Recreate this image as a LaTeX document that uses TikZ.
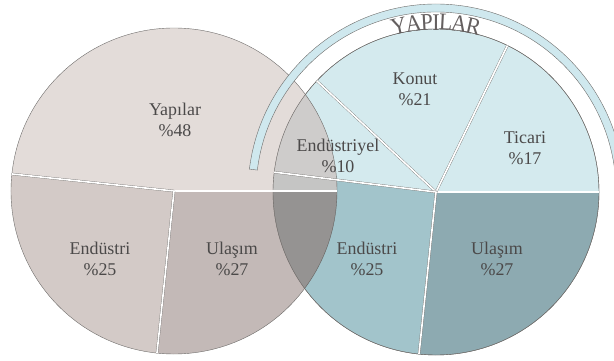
\documentclass[tikz,border=0pt]{standalone}
\usepackage{fontspec}
\setmainfont{Liberation Serif}
\usetikzlibrary{calc}
\definecolor{yapC}{RGB}{220,211,208}
\definecolor{endC}{RGB}{200,189,185}
\definecolor{ulaC}{RGB}{180,168,165}
\definecolor{ustB}{RGB}{212,234,238}
\definecolor{endB}{RGB}{162,196,203}
\definecolor{ulaB}{RGB}{141,170,177}
\definecolor{bandB}{RGB}{207,232,238}
\definecolor{edgeC}{RGB}{110,108,106}
\definecolor{textC}{RGB}{75,73,73}
\definecolor{titleC}{RGB}{100,95,95}
\begin{document}
\begin{tikzpicture}[x=1bp,y=1bp,
    slice/.style ={draw=edgeC, line width=0.4pt},
    gap/.style ={draw=edgeC, line width=0.3pt, double=white, double distance=1.7pt},
    share/.style ={text=textC, align=center, inner sep=0pt, font=\fontsize{18}{21}\selectfont},
    band/.style ={fill=bandB, draw=edgeC, line width=0.4pt},
    letter/.style ={text=titleC, inner sep=0pt, anchor=base, font=\fontsize{24}{24}\selectfont}]
  \useasboundingbox (0,0) rectangle (614,360);
  \clip (0,0) rectangle (614,360);
  \coordinate (L) at (174,169);
  \coordinate (R) at (436,168);
  \foreach \a/\b/\c in {0/64/ustB, 64/137/ustB, 137/173/ustB, 173/264/endB, 264/360/ulaB}
    \filldraw[slice, fill=\c] (R) -- ++(\a:163) arc[start angle=\a, end angle=\b, radius=163] -- cycle;
  \foreach \a/\b/\c in {0/174/yapC, 174/264/endC, 264/360/ulaC}
    \filldraw[slice, fill=\c, fill opacity=.8] (L) -- ++(\a:163) arc[start angle=\a, end angle=\b, radius=163] -- cycle;
  \begin{scope}
    \clip (R) circle (163);
    \fill[black, opacity=.05] (L) -- ++(0:163) arc[start angle=0, end angle=174, radius=163] -- cycle;
    \fill[black, opacity=.15] (L) -- ++(264:163) arc[start angle=264, end angle=360, radius=163] -- cycle;
  \end{scope}
  \draw[slice] (R) circle (163);
  \foreach \a in {0,174,264}
    \draw[gap] (L) -- ++(\a:163);
  \foreach \a in {0,64,137,173,264}
    \draw[gap] (R) -- ++(\a:163);
  \draw[band] ($(R)+(173:180)$) arc[start angle=173, end angle=-4, radius=180]
    -- ($(R)+(-4:188)$) arc[start angle=-4, end angle=173, radius=188] -- cycle;
  \foreach \ch/\g [count=\i] in {Y/102.6, A/97.6, P/93.1, I/89.96, L/86.7, A/82.1, R/77.2}
    \node[letter, rotate=\g-90, xscale=.92] (yp\i) at ($(R)+(\g:162)$) {\ch};
  \node[share] (yap) at (175,240) {Yapılar\\\%48};
  \node[share] (endL) at (100,101) {Endüstri\\\%25};
  \node[share] (ulaL) at (232,101) {Ulaşım\\\%27};
  \node[share] (endR) at (367,101) {Endüstri\\\%25};
  \node[share] (ulaR) at (497,101) {Ulaşım\\\%27};
  \node[share] (kon) at (415,271) {Konut\\\%21};
  \node[share] (tic) at (525,212) {Ticari\\\%17};
  \node[share] (eny) at (338,204) {Endüstriyel\\\%10};
\end{tikzpicture}
\end{document}
